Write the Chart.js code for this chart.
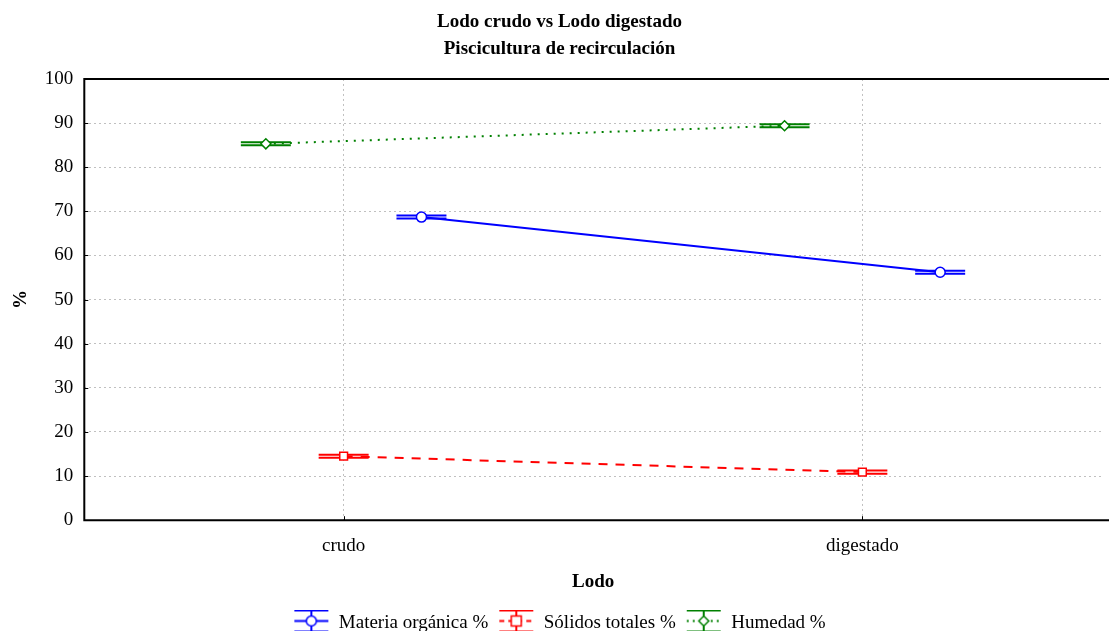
<!DOCTYPE html>
<html lang="es">
<head>
  <meta charset="UTF-8">
  <title>Lodo crudo vs Lodo digestado</title>
  <style>
    *{
      margin: 0;
      padding: 0;
    }
    body{
      background: #fff;
      overflow: hidden;
    }
    .chartBox{
      width: 1109px;
      height: 631px;
    }
  </style>
</head>
<body>
  <div class="chartBox">
    <canvas id="myChart"></canvas>
  </div>
  <script src="https://cdn.jsdelivr.net/npm/chart.js"></script>
  <script>
    // data
    const categories = ['crudo', 'digestado'];
    const materia = [68.7, 56.2];
    const solidos = [14.5, 10.9];
    const humedad = [85.3, 89.4];
    const errMateria = [0.35, 0.35];
    const errSolidos = [0.35, 0.35];
    const errHumedad = [0.35, 0.35];
    const yTicks = [0, 10, 20, 30, 40, 50, 60, 70, 80, 90, 100];

    const serif = "'Liberation Serif', 'Times New Roman', serif";

    // x offset of each series around the category
    function points(values, shift){
      return values.map((v, i) => ({x: i + shift, y: v}));
    }

    // legend icon: line + error bar + marker (drawn a bit above centre, like the original)
    function legendIcon(color, dash, marker){
      const c = document.createElement('canvas');
      c.width = 36;
      c.height = 28;
      const ctx = c.getContext('2d');
      const mid = 11.5;
      ctx.strokeStyle = color;
      ctx.lineWidth = 2;
      // caps
      ctx.beginPath();
      ctx.moveTo(1, 1); ctx.lineTo(35, 1);
      ctx.moveTo(1, 22); ctx.lineTo(35, 22);
      ctx.moveTo(18, 1); ctx.lineTo(18, 22);
      ctx.stroke();
      ctx.setLineDash(dash);
      ctx.beginPath();
      ctx.moveTo(1, mid); ctx.lineTo(35, mid);
      ctx.stroke();
      ctx.setLineDash([]);
      ctx.fillStyle = '#fff';
      ctx.lineWidth = 1.5;
      ctx.beginPath();
      if (marker === 'circle') {
        ctx.arc(18, mid, 5, 0, Math.PI * 2);
      } else if (marker === 'rect') {
        ctx.rect(13, mid - 5, 10, 10);
      } else {
        ctx.moveTo(18, mid - 5); ctx.lineTo(23, mid); ctx.lineTo(18, mid + 5); ctx.lineTo(13, mid); ctx.closePath();
      }
      ctx.fill();
      ctx.stroke();
      return c;
    }

    const data = {
      datasets: [
        {
          label: 'Materia orgánica %',
          data: points(materia, 0.15),
          err: errMateria,
          borderColor: '#0000ff',
          backgroundColor: '#ffffff',
          borderWidth: 2,
          pointStyle: 'circle',
          pointRadius: 5,
          pointBorderWidth: 1.5,
          icon: legendIcon('#0000ff', [], 'circle')
        },
        {
          label: 'Sólidos totales %',
          data: points(solidos, 0),
          err: errSolidos,
          borderColor: '#ff0000',
          backgroundColor: '#ffffff',
          borderWidth: 2,
          borderDash: [9, 8],
          pointStyle: 'rect',
          pointRadius: 5.5,
          pointBorderWidth: 1.5,
          icon: legendIcon('#ff0000', [5, 4], 'rect')
        },
        {
          label: 'Humedad %',
          data: points(humedad, -0.15),
          err: errHumedad,
          borderColor: '#008000',
          backgroundColor: '#ffffff',
          borderWidth: 2,
          borderDash: [2, 6],
          pointStyle: 'rectRot',
          pointRadius: 5,
          pointBorderWidth: 1.5,
          icon: legendIcon('#008000', [2, 4], 'diamond')
        }
      ]
    };

    // error bars, frame lines and inward ticks
    const extras = {
      id: 'extras',
      beforeDatasetsDraw(chart){
        const ctx = chart.ctx;
        const x = chart.scales.x, y = chart.scales.y;
        ctx.save();
        chart.data.datasets.forEach(ds => {
          ctx.strokeStyle = ds.borderColor;
          ctx.lineWidth = 2;
          ds.data.forEach((p, i) => {
            const px = x.getPixelForValue(p.x);
            const lo = y.getPixelForValue(p.y - ds.err[i]);
            const hi = y.getPixelForValue(p.y + ds.err[i]);
            ctx.beginPath();
            ctx.moveTo(px, lo); ctx.lineTo(px, hi);
            ctx.moveTo(px - 25, lo); ctx.lineTo(px + 25, lo);
            ctx.moveTo(px - 25, hi); ctx.lineTo(px + 25, hi);
            ctx.stroke();
          });
        });
        ctx.restore();
      },
      afterDraw(chart){
        const ctx = chart.ctx;
        const a = chart.chartArea;
        const x = chart.scales.x, y = chart.scales.y;
        ctx.save();
        ctx.strokeStyle = '#000';
        ctx.lineWidth = 2;
        ctx.beginPath();
        ctx.moveTo(chart.width, a.top);
        ctx.lineTo(a.left, a.top);
        ctx.lineTo(a.left, a.bottom);
        ctx.lineTo(chart.width, a.bottom);
        ctx.stroke();
        ctx.lineWidth = 1;
        ctx.beginPath();
        yTicks.forEach(t => {
          const py = Math.round(y.getPixelForValue(t)) + 0.5;
          ctx.moveTo(a.left, py); ctx.lineTo(a.left + 4, py);
        });
        categories.forEach((c, i) => {
          const px = Math.round(x.getPixelForValue(i)) + 0.5;
          ctx.moveTo(px, a.bottom); ctx.lineTo(px, a.bottom - 4);
        });
        ctx.stroke();
        ctx.restore();
      }
    };

    const config = {
      type: 'line',
      data,
      options: {
        responsive: true,
        maintainAspectRatio: false,
        animation: false,
        layout: {
          padding: {left: 10, right: 0, top: 0, bottom: -12}
        },
        scales: {
          x: {
            type: 'linear',
            min: -0.5,
            max: 1.462,
            afterBuildTicks(scale){
              scale.ticks = categories.map((c, i) => ({value: i}));
            },
            ticks: {
              callback: (v) => categories[v],
              color: '#000',
              font: {family: serif, size: 19},
              padding: 14
            },
            grid: {
              color: '#c0c0c0',
              lineWidth: 1,
              drawTicks: false
            },
            border: {display: false, dash: [2, 3]},
            title: {
              display: true,
              text: 'Lodo',
              color: '#000',
              font: {family: serif, size: 19, weight: 'bold', lineHeight: 1.0},
              padding: {top: 2, bottom: 12}
            }
          },
          y: {
            min: 0,
            max: 100,
            afterBuildTicks(scale){
              scale.ticks = yTicks.map(v => ({value: v}));
            },
            ticks: {
              color: '#000',
              font: {family: serif, size: 19},
              padding: 11
            },
            grid: {
              color: '#c0c0c0',
              lineWidth: 1,
              drawTicks: false
            },
            border: {display: false, dash: [2, 3]},
            title: {
              display: true,
              text: '%',
              color: '#000',
              font: {family: serif, size: 19, weight: 'bold'},
              padding: {top: 0, bottom: 1}
            }
          }
        },
        plugins: {
          title: {
            display: true,
            text: ['Lodo crudo vs Lodo digestado', 'Piscicultura de recirculación'],
            color: '#000',
            font: {family: serif, size: 19, weight: 'bold', lineHeight: 1.42},
            padding: {top: 9, bottom: 16}
          },
          legend: {
            position: 'bottom',
            labels: {
              usePointStyle: true,
              pointStyleWidth: 36,
              boxHeight: 19,
              padding: 10,
              color: '#000',
              font: {family: serif, size: 19},
              generateLabels(chart){
                return chart.data.datasets.map((ds, i) => ({
                  text: ds.label,
                  pointStyle: ds.icon,
                  fillStyle: '#fff',
                  strokeStyle: ds.borderColor,
                  lineWidth: 0,
                  hidden: false,
                  datasetIndex: i,
                  fontColor: '#000'
                }));
              }
            }
          },
          tooltip: {enabled: false}
        }
      },
      plugins: [extras]
    };

    const myChart = new Chart(
      document.getElementById('myChart'),
      config
    );
  </script>
</body>
</html>
